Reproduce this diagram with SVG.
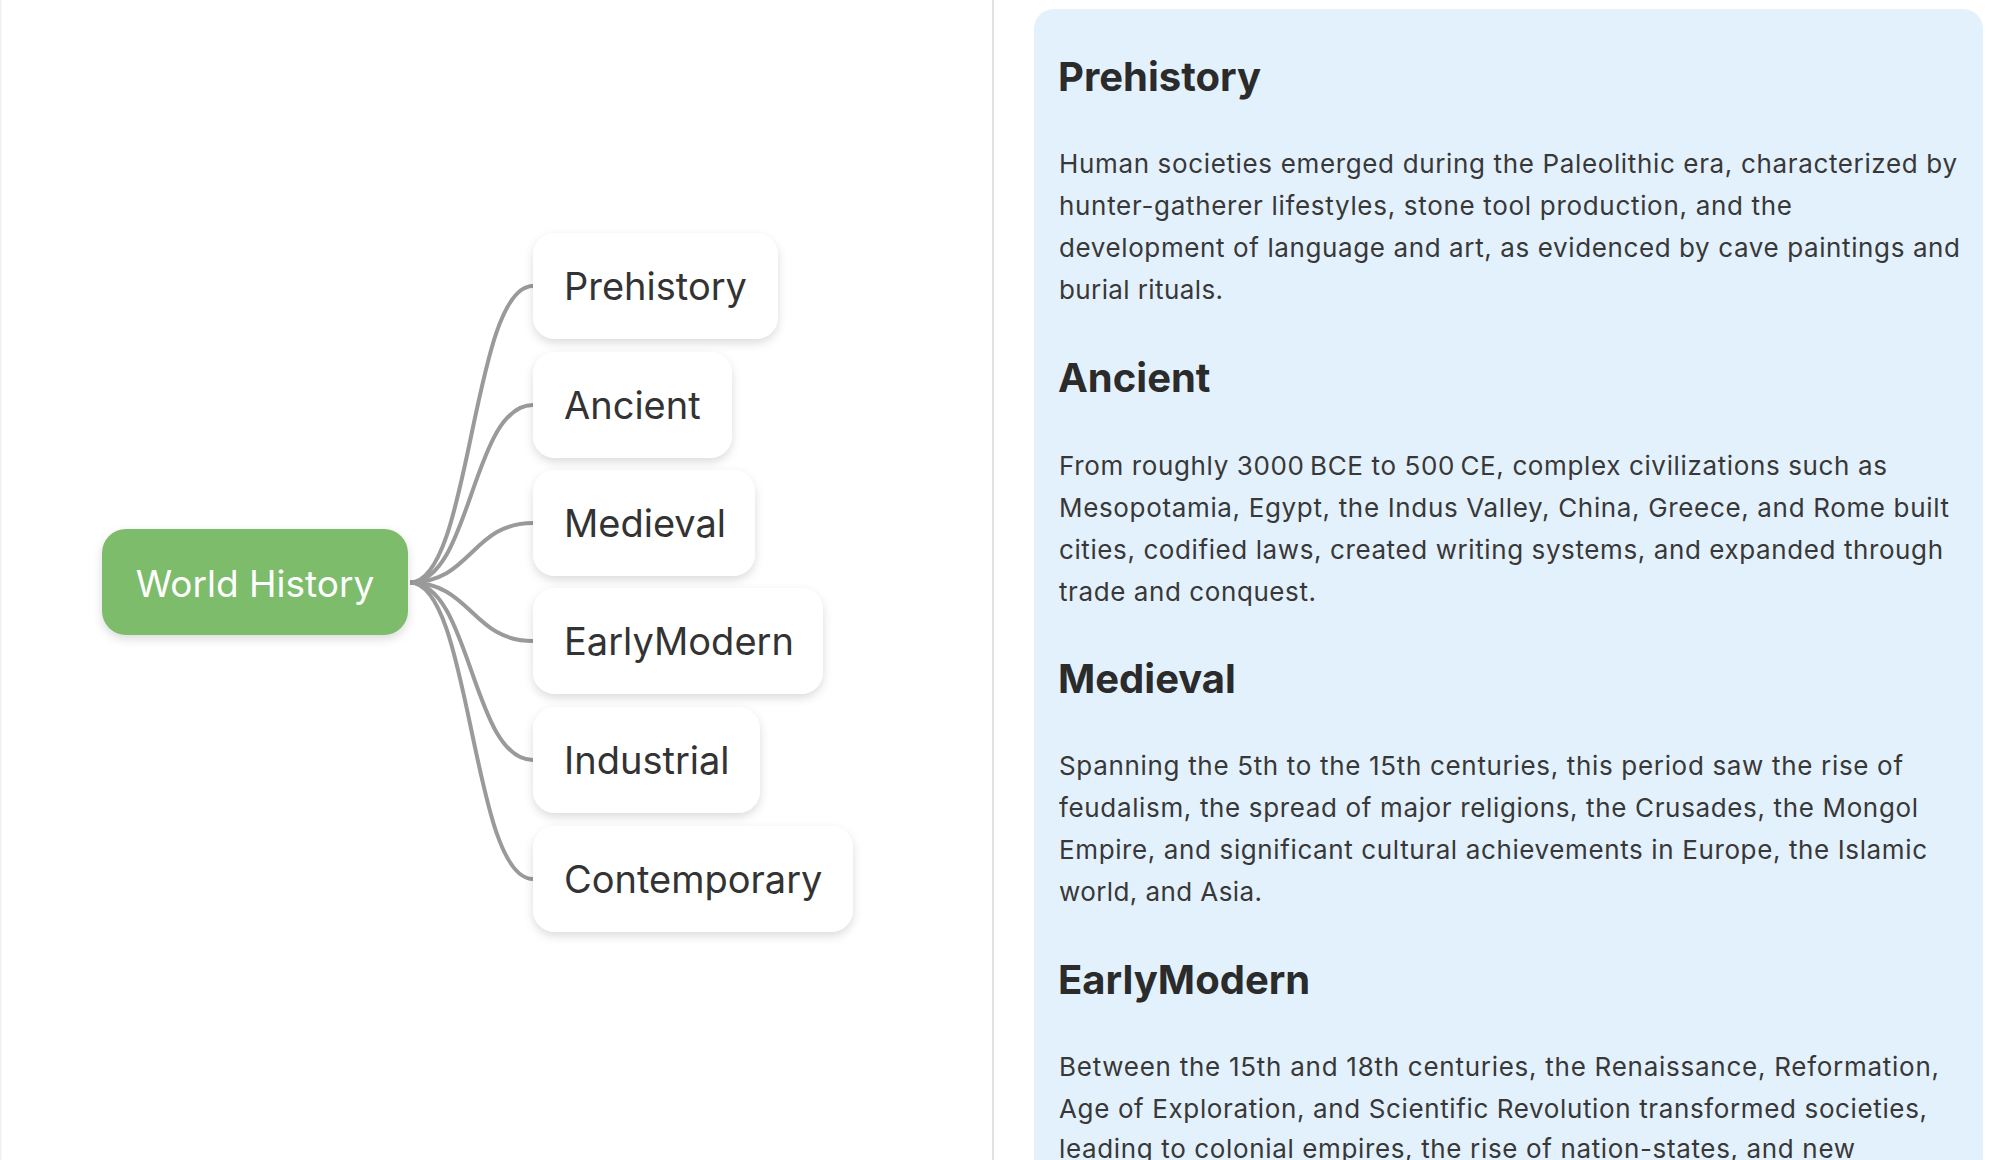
<svg xmlns="http://www.w3.org/2000/svg" width="2000" height="1160" viewBox="0 0 2000 1160">
  <defs>
    <filter id="shadow" x="-20%" y="-30%" width="140%" height="170%">
      <feDropShadow dx="0" dy="4" stdDeviation="5" flood-color="#000" flood-opacity="0.14"/>
    </filter>
    <style>
      .node rect { fill: #ffffff; filter: url(#shadow); }
      .node text { font-family: Inter, "Noto Sans", "Liberation Sans", sans-serif; font-size: 38px; fill: #333333; }
      .root rect { fill: #7cbc6b; filter: url(#shadow); }
      .root text { font-family: Inter, "Noto Sans", "Liberation Sans", sans-serif; font-size: 37px; fill: #ffffff; }
      .links path { fill: none; stroke: #9a9a9a; stroke-width: 4; }
      .h { font-family: Inter, "Noto Sans", "Liberation Sans", sans-serif; font-size: 40px; font-weight: 700; fill: #2b2b2b; }
      .b { font-family: Inter, "Noto Sans", "Liberation Sans", sans-serif; font-size: 26px; fill: #383838; }
    </style>
  </defs>

  <rect x="0" y="0" width="2000" height="1160" fill="#ffffff"/>
  <line x1="0.8" y1="0" x2="0.8" y2="1160" stroke="#f0f0f0" stroke-width="1.6"/>
  <line x1="993" y1="0" x2="993" y2="1160" stroke="#e2e2e2" stroke-width="2"/>

  <g id="connectors" class="links">
    <path d="M410,582.5 C471.5,582.5 471.5,286 533,286"/>
    <path d="M410,582.5 C471.5,582.5 471.5,405 533,405"/>
    <path d="M410,582.5 C471.5,582.5 471.5,523 533,523"/>
    <path d="M410,582.5 C471.5,582.5 471.5,641 533,641"/>
    <path d="M410,582.5 C471.5,582.5 471.5,760 533,760"/>
    <path d="M410,582.5 C471.5,582.5 471.5,879 533,879"/>
  </g>

  <g id="node-root" class="root">
    <rect x="102" y="529" width="306" height="106" rx="24"/>
    <text x="255" y="597" text-anchor="middle">World History</text>
  </g>
  <g id="node-prehistory" class="node">
    <rect x="533" y="233" width="245" height="106" rx="22"/>
    <text x="564" y="300">Prehistory</text>
  </g>
  <g id="node-ancient" class="node">
    <rect x="533" y="352" width="199" height="106" rx="22"/>
    <text x="564" y="419">Ancient</text>
  </g>
  <g id="node-medieval" class="node">
    <rect x="533" y="470" width="222" height="106" rx="22"/>
    <text x="564" y="537">Medieval</text>
  </g>
  <g id="node-earlymodern" class="node">
    <rect x="533" y="588" width="290" height="106" rx="22"/>
    <text x="564" y="655">EarlyModern</text>
  </g>
  <g id="node-industrial" class="node">
    <rect x="533" y="707" width="227" height="106" rx="22"/>
    <text x="564" y="774">Industrial</text>
  </g>
  <g id="node-contemporary" class="node">
    <rect x="533" y="826" width="320" height="106" rx="22"/>
    <text x="564" y="893">Contemporary</text>
  </g>

  <g id="details-panel">
    <rect x="1034" y="9" width="949" height="1200" rx="20" fill="#e3f1fd"/>

    <text class="h" x="1058" y="91">Prehistory</text>
    <text class="b" x="1059" y="173" textLength="898" lengthAdjust="spacing">Human societies emerged during the Paleolithic era, characterized by</text>
    <text class="b" x="1059" y="215" textLength="733" lengthAdjust="spacing">hunter-gatherer lifestyles, stone tool production, and the</text>
    <text class="b" x="1059" y="257" textLength="901" lengthAdjust="spacing">development of language and art, as evidenced by cave paintings and</text>
    <text class="b" x="1059" y="299" textLength="164" lengthAdjust="spacing">burial rituals.</text>

    <text class="h" x="1058" y="392">Ancient</text>
    <text class="b" x="1059" y="475" textLength="828" lengthAdjust="spacing">From roughly 3000&#8239;BCE to 500&#8239;CE, complex civilizations such as</text>
    <text class="b" x="1059" y="517" textLength="890" lengthAdjust="spacing">Mesopotamia, Egypt, the Indus Valley, China, Greece, and Rome built</text>
    <text class="b" x="1059" y="559" textLength="884" lengthAdjust="spacing">cities, codified laws, created writing systems, and expanded through</text>
    <text class="b" x="1059" y="601" textLength="257" lengthAdjust="spacing">trade and conquest.</text>

    <text class="h" x="1058" y="693">Medieval</text>
    <text class="b" x="1059" y="775" textLength="844" lengthAdjust="spacing">Spanning the 5th to the 15th centuries, this period saw the rise of</text>
    <text class="b" x="1059" y="817" textLength="859" lengthAdjust="spacing">feudalism, the spread of major religions, the Crusades, the Mongol</text>
    <text class="b" x="1059" y="859" textLength="868" lengthAdjust="spacing">Empire, and significant cultural achievements in Europe, the Islamic</text>
    <text class="b" x="1059" y="901" textLength="203" lengthAdjust="spacing">world, and Asia.</text>

    <text class="h" x="1058" y="994">EarlyModern</text>
    <text class="b" x="1059" y="1076" textLength="880" lengthAdjust="spacing">Between the 15th and 18th centuries, the Renaissance, Reformation,</text>
    <text class="b" x="1059" y="1118" textLength="868" lengthAdjust="spacing">Age of Exploration, and Scientific Revolution transformed societies,</text>
    <text class="b" x="1059" y="1158" textLength="796" lengthAdjust="spacing">leading to colonial empires, the rise of nation-states, and new</text>
  </g>
</svg>
